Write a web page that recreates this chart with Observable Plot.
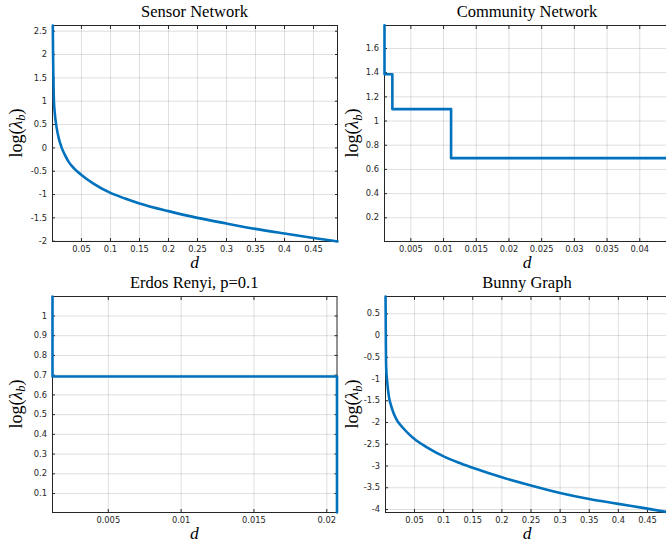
<!DOCTYPE html>
<html><head><meta charset="utf-8">
<script src="https://cdn.jsdelivr.net/npm/d3@7"></script>
<script src="https://cdn.jsdelivr.net/npm/@observablehq/plot@0.6"></script>
<style>
html,body{margin:0;padding:0;background:#fff;overflow:hidden}
#wrap{position:relative;width:666px;height:548px;overflow:hidden;background:#fff}
.panel{position:absolute}
</style></head><body><div id="wrap"></div>
<script>
// ---- data ----
const titles = ["Sensor Network", "Community Network", "Erdos Renyi, p=0.1", "Bunny Graph"];

const sensorD   = [0.0006, 0.001, 0.0015, 0.0024, 0.004, 0.007, 0.011, 0.016, 0.021, 0.028, 0.038, 0.05, 0.07, 0.1, 0.125, 0.15, 0.2, 0.25, 0.3, 0.35, 0.4, 0.45, 0.4913];
const sensorLog = [2.62, 2.1, 1.6, 1.05, 0.75, 0.45, 0.2, 0.0, -0.14, -0.3, -0.45, -0.58, -0.76, -0.965, -1.085, -1.19, -1.355, -1.5, -1.62, -1.735, -1.835, -1.93, -2.006];

const communityD   = [0.00097, 0.00097, 0.00217, 0.01115, 0.0447];
const communityLog = [1.7918, 1.3863, 1.0986, 0.6931, 0.6931];

const erdosD   = [0.00117, 0.00117, 0.0207, 0.0207];
const erdosLog = [1.0986, 0.6931, 0.6931, 0.004];

const bunnyD   = [0.0003, 0.0006, 0.0009, 0.0014, 0.003, 0.006, 0.0095, 0.014, 0.02, 0.03, 0.04, 0.05, 0.07, 0.1, 0.125, 0.15, 0.2, 0.25, 0.3, 0.35, 0.4, 0.45, 0.4878];
const bunnyLog = [0.898, 0.3, -0.3, -0.75, -1.05, -1.4, -1.6, -1.78, -1.95, -2.12, -2.26, -2.38, -2.56, -2.78, -2.92, -3.04, -3.26, -3.45, -3.62, -3.76, -3.87, -3.98, -4.069];

const sensorXTicks = [0.05, 0.1, 0.15, 0.2, 0.25, 0.3, 0.35, 0.4, 0.45];
const sensorYTicks = [-2, -1.5, -1, -0.5, 0, 0.5, 1, 1.5, 2, 2.5];
const communityXTicks = [0.005, 0.01, 0.015, 0.02, 0.025, 0.03, 0.035, 0.04];
const communityYTicks = [0.2, 0.4, 0.6, 0.8, 1, 1.2, 1.4, 1.6];
const erdosXTicks = [0.005, 0.01, 0.015, 0.02];
const erdosYTicks = [0.1, 0.2, 0.3, 0.4, 0.5, 0.6, 0.7, 0.8, 0.9, 1];
const bunnyXTicks = [0.05, 0.1, 0.15, 0.2, 0.25, 0.3, 0.35, 0.4, 0.45];
const bunnyYTicks = [-4, -3.5, -3, -2.5, -2, -1.5, -1, -0.5, 0, 0.5];

const AX = "#262626";
const BLUE = "#0072BD";
const W = 340, H = 274;

function panel(o) {
  const data = o.d.map((x, i) => ({d: x, v: o.v[i]}));
  const fmt = t => String(t);
  const blank = () => "";
  const plot = Plot.plot({
    width: W, height: H,
    marginLeft: o.mL, marginRight: o.mR, marginTop: o.mT, marginBottom: o.mB,
    style: {background: "transparent", fontFamily: "'DejaVu Sans', sans-serif", fontSize: "8.3px", color: AX, overflow: "visible"},
    x: {domain: o.xDomain},
    y: {domain: o.yDomain},
    marks: [
      Plot.gridX(o.xTicks, {stroke: AX, strokeOpacity: 0.15}),
      Plot.gridY(o.yTicks, {stroke: AX, strokeOpacity: 0.15}),
      Plot.axisX(o.xTicks, {anchor: "bottom", tickSize: 0, tickPadding: 4.5, tickFormat: fmt, label: null, fill: AX}),
      Plot.axisY(o.yTicks, {anchor: "left", tickSize: 0, tickPadding: 5.5, tickFormat: fmt, label: null, fill: AX}),
      Plot.axisX(o.xTicks, {anchor: "bottom", tickSize: -3, tickFormat: blank, label: null, stroke: AX}),
      Plot.axisX(o.xTicks, {anchor: "top", tickSize: -3, tickFormat: blank, label: null, stroke: AX}),
      Plot.axisY(o.yTicks, {anchor: "left", tickSize: -3, tickFormat: blank, label: null, stroke: AX}),
      Plot.axisY(o.yTicks, {anchor: "right", tickSize: -3, tickFormat: blank, label: null, stroke: AX}),
      Plot.frame({stroke: AX, strokeWidth: 1}),
      Plot.line(data, {x: "d", y: "v", stroke: BLUE, strokeWidth: 2.6, curve: o.curve || "linear"})
    ]
  });
  const svg = d3.select(plot);
  const cx = (o.mL + W - o.mR) / 2;
  const cy = (o.mT + H - o.mB) / 2;
  svg.append("text")
    .attr("x", cx).attr("y", o.mT - 8.5)
    .attr("text-anchor", "middle")
    .style("font-family", "'Liberation Serif', serif").style("font-size", "16.5px").attr("fill", "#000")
    .text(o.title);
  svg.append("text")
    .attr("x", cx).attr("y", H - o.mB + 27)
    .attr("text-anchor", "middle")
    .style("font-family", "'Liberation Serif', serif").style("font-size", "17.5px").style("font-style", "italic").attr("fill", "#000")
    .text("d");
  const yl = svg.append("text")
    .attr("transform", `translate(${o.yl},${cy}) rotate(-90)`)
    .attr("text-anchor", "middle")
    .style("font-family", "'Liberation Serif', serif").style("font-size", "18px").attr("fill", "#000");
  yl.append("tspan").text("log(");
  yl.append("tspan").style("font-style", "italic").text("λ");
  yl.append("tspan").style("font-style", "italic").style("font-size", "12.5px").attr("dy", 3.5).text("b");
  yl.append("tspan").attr("dy", -3.5).text(")");
  plot.classList.add("panel");
  plot.style.left = o.left + "px";
  plot.style.top = o.top + "px";
  document.getElementById("wrap").appendChild(plot);
}

panel({title: titles[0], d: sensorD, v: sensorLog, left: 0, top: 0, mL: 52, mR: 3, mT: 25, mB: 33,
  xDomain: [0.0001, 0.4913], yDomain: [-2.006, 2.622], xTicks: sensorXTicks, yTicks: sensorYTicks, curve: "monotone-x", yl: 21.5});
panel({title: titles[1], d: communityD, v: communityLog, left: 333, top: 0, mL: 51, mR: 3, mT: 25, mB: 33,
  xDomain: [0.00097, 0.0447], yDomain: [0.004, 1.79], xTicks: communityXTicks, yTicks: communityYTicks, curve: "step-after", yl: 25});
panel({title: titles[2], d: erdosD, v: erdosLog, left: 0, top: 274, mL: 52, mR: 3.5, mT: 22, mB: 36,
  xDomain: [0.00117, 0.0207], yDomain: [0.004, 1.0986], xTicks: erdosXTicks, yTicks: erdosYTicks, curve: "linear", yl: 21.5});
panel({title: titles[3], d: bunnyD, v: bunnyLog, left: 333, top: 274, mL: 52, mR: 4, mT: 22, mB: 36,
  xDomain: [0.0002, 0.4878], yDomain: [-4.069, 0.898], xTicks: bunnyXTicks, yTicks: bunnyYTicks, curve: "monotone-x", yl: 25});
</script>
</body></html>
